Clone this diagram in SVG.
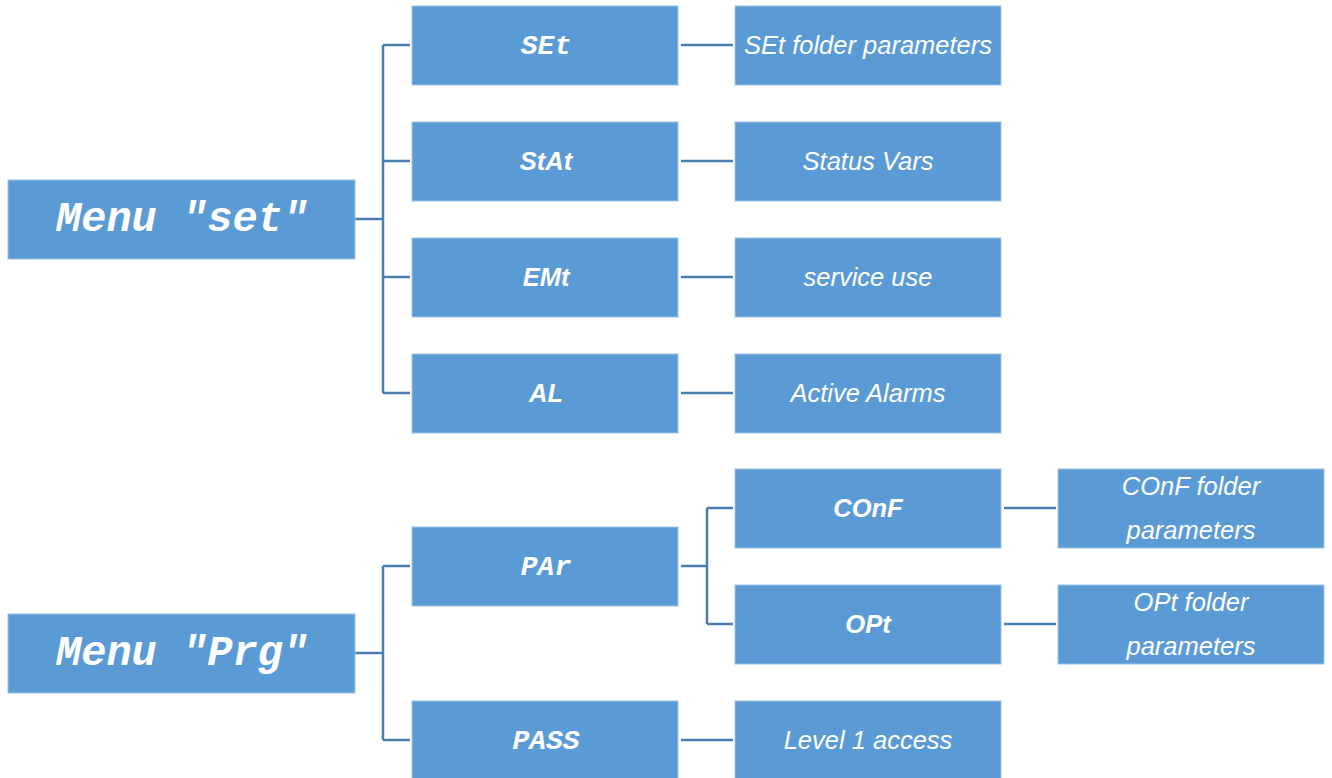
<svg xmlns="http://www.w3.org/2000/svg" width="1332" height="778" viewBox="0 0 1332 778">
<style>
.box{fill:#5b9bd5;stroke:#9dc3e6;stroke-width:1}
.mono{font-family:"Liberation Mono","Courier New",monospace;font-weight:bold;font-style:italic;fill:#fff;text-anchor:middle}
.big{font-size:42px}
.med{font-size:28px}
.sans{font-family:"Liberation Sans",Arial,sans-serif;font-style:italic;fill:#fff;text-anchor:middle;font-size:25.5px}
.b{font-weight:bold}
.conn{stroke:#4a7eb0;stroke-width:2.5;fill:none}
</style>
<rect width="1332" height="778" fill="#fff"/>
<g id="connectors">
<path class="conn" d="M355 219H383M383 45V393M383 45H410M383 161H410M383 277H410M383 393H410"/>
<path class="conn" d="M681 45H733M681 161H733M681 277H733M681 393H733"/>
<path class="conn" d="M355 653H383M383 566V740M383 566H410M383 740H410"/>
<path class="conn" d="M681 566H707M707 508V624M707 508H733M707 624H733"/>
<path class="conn" d="M1004 508H1056M1004 624H1056M681 740H733"/>
</g>
<g id="menu-set"><rect class="box" x="8" y="180" width="347" height="79"/><text class="mono big" x="182" y="231">Menu "set"</text></g>
<g id="menu-prg"><rect class="box" x="8" y="614" width="347" height="79"/><text class="mono big" x="182" y="665">Menu "Prg"</text></g>
<g id="set"><rect class="box" x="412" y="6" width="266" height="79"/><text class="mono med" x="546" y="54">SEt</text></g>
<g id="stat"><rect class="box" x="412" y="122" width="266" height="79"/><text class="sans b" x="546" y="170">StAt</text></g>
<g id="emt"><rect class="box" x="412" y="238" width="266" height="79"/><text class="sans b" x="546" y="286">EMt</text></g>
<g id="al"><rect class="box" x="412" y="354" width="266" height="79"/><text class="sans b" x="546" y="402">AL</text></g>
<g id="par"><rect class="box" x="412" y="527" width="266" height="79"/><text class="mono med" x="546" y="575">PAr</text></g>
<g id="pass"><rect class="box" x="412" y="701" width="266" height="79"/><text class="mono med" x="546" y="749">PASS</text></g>
<g id="set-folder"><rect class="box" x="735" y="6" width="266" height="79"/><text class="sans" x="868" y="54">SEt folder parameters</text></g>
<g id="status-vars"><rect class="box" x="735" y="122" width="266" height="79"/><text class="sans" x="868" y="170">Status Vars</text></g>
<g id="service-use"><rect class="box" x="735" y="238" width="266" height="79"/><text class="sans" x="868" y="286">service use</text></g>
<g id="active-alarms"><rect class="box" x="735" y="354" width="266" height="79"/><text class="sans" x="868" y="402">Active Alarms</text></g>
<g id="conf"><rect class="box" x="735" y="469" width="266" height="79"/><text class="sans b" x="868" y="517">COnF</text></g>
<g id="opt"><rect class="box" x="735" y="585" width="266" height="79"/><text class="sans b" x="868" y="633">OPt</text></g>
<g id="level1"><rect class="box" x="735" y="701" width="266" height="79"/><text class="sans" x="868" y="749">Level 1 access</text></g>
<g id="conf-folder"><rect class="box" x="1058" y="469" width="266" height="79"/><text class="sans" x="1191" y="495">COnF folder</text><text class="sans" x="1191" y="539">parameters</text></g>
<g id="opt-folder"><rect class="box" x="1058" y="585" width="266" height="79"/><text class="sans" x="1191" y="611">OPt folder</text><text class="sans" x="1191" y="655">parameters</text></g>
</svg>
